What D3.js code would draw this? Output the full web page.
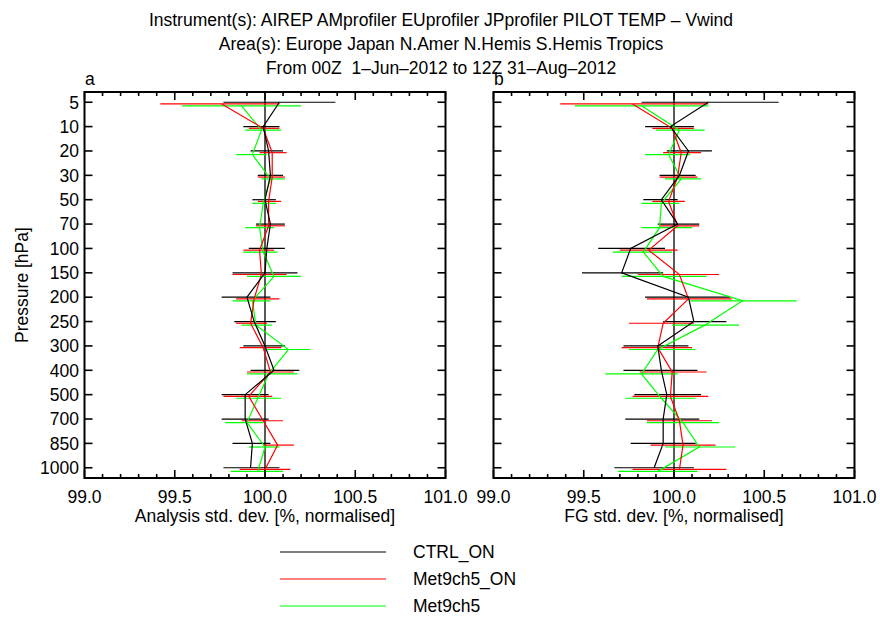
<!DOCTYPE html>
<html>
<head>
    <title>Std. dev. profiles</title>
    <script src="https://d3js.org/d3.v7.min.js"></script>
    <style>
        body { margin: 0; background: #fff; }
        text { font-family: "Liberation Sans", Arial, sans-serif; fill: #000; }
    </style>
</head>
<body>

<script>
// pressure levels (hPa), top to bottom
const levels = ['5', '10', '20', '30', '50', '70', '100', '150', '200', '250', '300', '400', '500', '700', '850', '1000'];
const seriesNames = ['CTRL_ON', 'Met9ch5_ON', 'Met9ch5'];
const xTicksMajor = [99.0, 99.5, 100.0, 100.5, 101.0];

// panel a: analysis std. dev.
const anCtrl   = [100.08, 99.99, 100.02, 100.03, 100.00, 100.03, 100.01, 100.00, 99.90, 99.94, 100.00, 100.05, 99.89, 99.89, 99.93, 99.92];
const anCtrlLo = [99.77, 99.88, 99.92, 99.96, 99.93, 99.95, 99.91, 99.82, 99.76, 99.83, 99.88, 99.92, 99.76, 99.76, 99.82, 99.77];
const anCtrlHi = [100.39, 100.08, 100.10, 100.10, 100.06, 100.11, 100.11, 100.18, 100.03, 100.06, 100.11, 100.19, 100.02, 100.02, 100.03, 100.08];
const anOn     = [99.76, 99.99, 100.04, 100.04, 100.02, 100.02, 99.97, 99.98, 99.94, 99.92, 99.99, 100.03, 99.91, 99.99, 100.07, 100.00];
const anOnLo   = [99.42, 99.91, 99.97, 99.96, 99.96, 99.95, 99.88, 99.82, 99.84, 99.84, 99.86, 99.90, 99.77, 99.87, 99.99, 99.86];
const anOnHi   = [100.08, 100.08, 100.12, 100.11, 100.09, 100.11, 100.05, 100.12, 100.08, 100.01, 100.09, 100.16, 100.04, 100.10, 100.16, 100.14];
const anCh5    = [99.87, 99.98, 99.93, 100.03, 99.99, 99.97, 99.99, 100.05, 99.93, 99.95, 100.13, 100.02, 99.96, 99.90, 100.00, 99.96];
const anCh5Lo  = [99.54, 99.89, 99.84, 99.98, 99.93, 99.89, 99.88, 99.90, 99.82, 99.87, 100.01, 99.90, 99.84, 99.78, 99.91, 99.81];
const anCh5Hi  = [100.20, 100.09, 100.01, 100.11, 100.06, 100.05, 100.07, 100.20, 100.03, 100.04, 100.25, 100.18, 100.09, 99.99, 100.08, 100.10];

// panel b: first guess std. dev.
const fgCtrl   = [100.19, 99.98, 100.08, 100.03, 99.93, 100.02, 99.76, 99.71, 100.08, 100.11, 99.91, 99.93, 99.96, 99.94, 99.94, 99.89];
const fgCtrlLo = [99.82, 99.84, 99.96, 99.92, 99.83, 99.91, 99.58, 99.49, 99.84, 99.94, 99.72, 99.72, 99.78, 99.73, 99.76, 99.67];
const fgCtrlHi = [100.58, 100.11, 100.21, 100.12, 100.02, 100.14, 99.95, 99.94, 100.31, 100.29, 100.08, 100.13, 100.15, 100.14, 100.12, 100.11];
const fgOn     = [99.77, 99.99, 100.04, 100.02, 99.97, 100.02, 99.86, 100.03, 100.08, 99.94, 99.91, 99.99, 99.98, 100.03, 100.05, 100.03];
const fgOnLo   = [99.37, 99.88, 99.94, 99.92, 99.88, 99.92, 99.70, 99.80, 99.85, 99.75, 99.71, 99.81, 99.77, 99.85, 99.87, 99.77];
const fgOnHi   = [100.19, 100.11, 100.15, 100.13, 100.06, 100.14, 100.02, 100.25, 100.32, 100.11, 100.10, 100.18, 100.19, 100.21, 100.23, 100.29];
const fgCh5    = [99.82, 100.03, 99.97, 100.04, 99.93, 99.92, 99.83, 99.94, 100.38, 100.17, 99.91, 99.82, 99.93, 100.05, 100.14, 99.91];
const fgCh5Lo  = [99.45, 99.90, 99.84, 99.95, 99.82, 99.82, 99.66, 99.71, 100.09, 99.99, 99.75, 99.62, 99.73, 99.85, 99.95, 99.69];
const fgCh5Hi  = [100.19, 100.17, 100.09, 100.15, 100.03, 100.10, 99.99, 100.18, 100.68, 100.36, 100.12, 100.02, 100.12, 100.25, 100.34, 100.13];

const colors = ['#000000', '#ff0000', '#00ff00'];
const yShift = [0, 1.7, 3.6];   // the three series are drawn slightly apart

const panels = [
    { label: 'a', xTitle: 'Analysis std. dev. [%, normalised]', left: 84.5, right: 445.5,
      mean: [anCtrl, anOn, anCh5], lo: [anCtrlLo, anOnLo, anCh5Lo], hi: [anCtrlHi, anOnHi, anCh5Hi] },
    { label: 'b', xTitle: 'FG std. dev. [%, normalised]', left: 493.5, right: 854.5,
      mean: [fgCtrl, fgOn, fgCh5], lo: [fgCtrlLo, fgOnLo, fgCh5Lo], hi: [fgCtrlHi, fgOnHi, fgCh5Hi] }
];

const width = 880, height = 619;
const plotTop = 92, plotBottom = 478;

const svg = d3.select('body')
    .append('svg')
    .attr('width', width)
    .attr('height', height);

// titles
const titles = [
    'Instrument(s): AIREP AMprofiler EUprofiler JPprofiler PILOT TEMP \u2013 Vwind',
    'Area(s): Europe Japan N.Amer N.Hemis S.Hemis Tropics',
    'From 00Z  1\u2013Jun\u20132012 to 12Z 31\u2013Aug\u20132012'
];
svg.selectAll('.title')
    .data(titles)
    .enter()
    .append('text')
    .attr('class', 'title')
    .attr('x', 441)
    .attr('y', (d, i) => 26 + i * 24)
    .attr('text-anchor', 'middle')
    .attr('font-size', 17.5)
    .style('white-space', 'pre')
    .text(d => d);

const y = d3.scalePoint()
    .domain(levels)
    .range([plotTop, plotBottom])
    .padding(0.42);

// y axis title
svg.append('text')
    .attr('transform', `translate(28,${(plotTop + plotBottom) / 2}) rotate(-90)`)
    .attr('text-anchor', 'middle')
    .attr('font-size', 17.5)
    .text('Pressure [hPa]');

// y tick labels only on the left panel
svg.selectAll('.ylab')
    .data(levels)
    .enter()
    .append('text')
    .attr('x', 79)
    .attr('y', d => y(d))
    .attr('dy', '0.36em')
    .attr('text-anchor', 'end')
    .attr('font-size', 17.5)
    .text(d => d);

panels.forEach(p => {
    const x = d3.scaleLinear().domain([99, 101]).range([p.left, p.right]);
    const g = svg.append('g');

    // reference line at 100 %
    g.append('line')
        .attr('x1', x(100)).attr('x2', x(100))
        .attr('y1', plotTop).attr('y2', plotBottom)
        .attr('stroke', '#000')
        .attr('stroke-width', 1.3);

    // error bars
    p.mean.forEach((m, s) => {
        g.selectAll(null)
            .data(levels)
            .enter()
            .append('line')
            .attr('x1', (d, i) => x(p.lo[s][i]))
            .attr('x2', (d, i) => x(p.hi[s][i]))
            .attr('y1', d => y(d) + yShift[s])
            .attr('y2', d => y(d) + yShift[s])
            .attr('stroke', colors[s])
            .attr('stroke-width', 1.2);
    });

    // profiles
    const line = d3.line();
    [2, 1, 0].forEach(s => {
        g.append('path')
            .attr('d', line(levels.map((d, i) => [x(p.mean[s][i]), y(d) + yShift[s]])))
            .attr('fill', 'none')
            .attr('stroke', colors[s])
            .attr('stroke-width', 1.2);
    });

    // x ticks, minor and major, top and bottom, pointing inward
    const minor = d3.range(0, 21).map(i => 99 + i * 0.1);
    [[plotBottom, -1], [plotTop, 1]].forEach(([yy, dir]) => {
        g.selectAll(null)
            .data(minor)
            .enter()
            .append('line')
            .attr('x1', d => x(d)).attr('x2', d => x(d))
            .attr('y1', yy)
            .attr('y2', d => yy + dir * (xTicksMajor.some(v => Math.abs(v - d) < 1e-6) ? 8 : 4))
            .attr('stroke', '#000')
            .attr('stroke-width', 1.6);
    });

    // y ticks on both sides
    [[p.left, 1], [p.right, -1]].forEach(([xx, dir]) => {
        g.selectAll(null)
            .data(levels)
            .enter()
            .append('line')
            .attr('x1', xx).attr('x2', xx + dir * 8)
            .attr('y1', d => y(d)).attr('y2', d => y(d))
            .attr('stroke', '#000')
            .attr('stroke-width', 1.6);
    });

    // frame
    g.append('rect')
        .attr('x', p.left).attr('y', plotTop)
        .attr('width', p.right - p.left).attr('height', plotBottom - plotTop)
        .attr('fill', 'none')
        .attr('stroke', '#000')
        .attr('stroke-width', 2);

    // x tick labels
    g.selectAll(null)
        .data(xTicksMajor)
        .enter()
        .append('text')
        .attr('x', d => x(d))
        .attr('y', 503)
        .attr('text-anchor', 'middle')
        .attr('font-size', 17.5)
        .text(d => d.toFixed(1));

    // x axis title
    g.append('text')
        .attr('x', (p.left + p.right) / 2)
        .attr('y', 522)
        .attr('text-anchor', 'middle')
        .attr('font-size', 17.5)
        .text(p.xTitle);

    // panel letter
    g.append('text')
        .attr('x', p.left + 0.5)
        .attr('y', 85)
        .attr('font-size', 17.5)
        .text(p.label);
});

// legend
const legendY = [552, 579, 606];
const legend = svg.selectAll('.legend')
    .data(seriesNames)
    .enter()
    .append('g')
    .attr('class', 'legend')
    .attr('transform', (d, i) => `translate(0,${legendY[i]})`);

legend.append('line')
    .attr('x1', 280).attr('x2', 386)
    .attr('y1', 0).attr('y2', 0)
    .attr('stroke', (d, i) => colors[i])
    .attr('stroke-width', 1.2);

legend.append('text')
    .attr('x', 413)
    .attr('y', 0)
    .attr('dy', '0.36em')
    .attr('font-size', 17.5)
    .text(d => d);
</script>

</body>
</html>
